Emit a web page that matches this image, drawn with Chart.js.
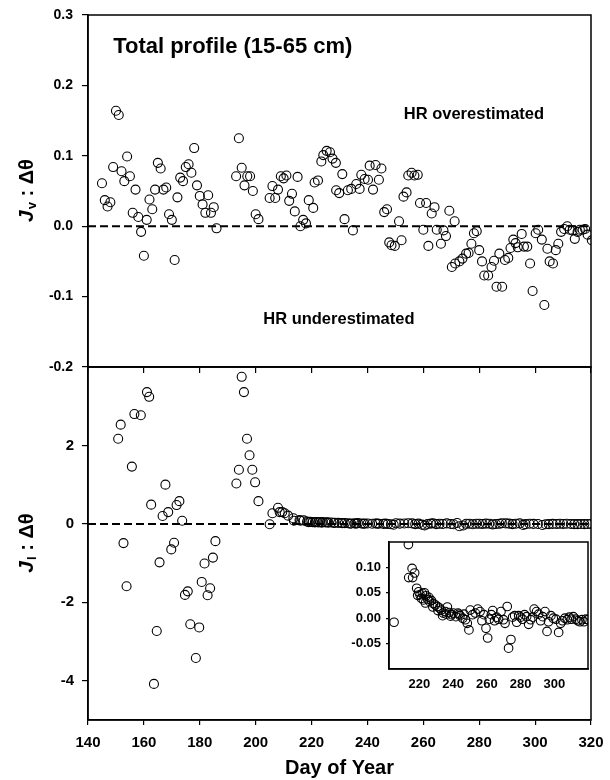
<!DOCTYPE html>
<html>
<head>
<meta charset="utf-8">
<script src="https://cdn.jsdelivr.net/npm/chart.js@4.4.0/dist/chart.umd.min.js"></script>
<style>
  html, body { margin: 0; padding: 0; background: #fff; }
  #wrap { position: relative; width: 610px; height: 780px; }
  canvas { position: absolute; }
  #bottomChart { left: 0; top: 360px; }
  #topChart { left: 0; top: 0; }
  #insetChart { left: 340px; top: 530px; }
</style>
</head>
<body>
<div id="wrap">
  <canvas id="bottomChart" width="610" height="420"></canvas>
  <canvas id="topChart" width="610" height="380"></canvas>
  <canvas id="insetChart" width="260" height="180"></canvas>
</div>
<script>
const FONT = "'Liberation Sans', Arial, Helvetica, sans-serif";

// Tick values
const dayTicks = [140, 160, 180, 200, 220, 240, 260, 280, 300, 320];
const insetDayTicks = [220, 240, 260, 280, 300];
const topYTicks = [-0.2, -0.1, 0, 0.1, 0.2, 0.3];
const bottomYTicks = [-4, -2, 0, 2];
const insetYTicks = [-0.05, 0, 0.05, 0.10];

// Top panel: Jv : dtheta
const topDays = [
  145, 146, 147, 148, 149, 150, 151, 152, 153, 154,
  155, 156, 157, 158, 159, 160, 161, 162, 163, 164,
  165, 166, 167, 168, 169, 170, 171, 172, 173, 174,
  175, 176, 177, 178, 179, 180, 181, 182, 183, 184,
  185, 186, 193, 194, 195, 196, 197, 198, 199, 200,
  201, 205, 206, 207, 208, 209, 210, 211, 212, 213,
  214, 215, 216, 217, 218, 219, 220.6, 221.1, 222.3, 223.5,
  224.2, 225.4, 226.6, 227.5, 228.7, 228.8, 229.9, 231, 231.8, 233,
  234.2, 234.8, 236, 237.2, 237.8, 239, 240.2, 240.8, 242, 242.9,
  244.1, 245, 246, 247, 247.8, 248.6, 249.8, 251.3, 252.2, 252.9,
  254, 254.6, 255.8, 256.8, 258, 258.8, 260, 261, 261.8, 263,
  264, 264.8, 266.3, 267.2, 268.1, 269.3, 270.2, 271.2, 271.4, 272.9,
  274, 275.3, 276.2, 277.2, 278.1, 279.1, 280, 281, 281.8, 283.2,
  284.4, 285.3, 286.2, 287.2, 288.2, 289.2, 290.4, 291.2, 292.2, 293,
  293.8, 295.2, 296, 297.2, 298.2, 299.1, 300.2, 301.1, 302.4, 303.3,
  304.4, 305.2, 306.4, 307.4, 308.3, 309.3, 310.4, 311.5, 312.4, 313.4,
  314.2, 315.2, 316, 317, 317.9, 318.8, 320.3
];
const topVals = [
  0.061, 0.037, 0.028, 0.034, 0.084, 0.164, 0.158, 0.078, 0.064, 0.099,
  0.071, 0.019, 0.052, 0.013, -0.008, -0.042, 0.009, 0.038, 0.024, 0.052,
  0.090, 0.082, 0.052, 0.055, 0.017, 0.009, -0.048, 0.041, 0.069, 0.064,
  0.084, 0.088, 0.076, 0.111, 0.058, 0.043, 0.031, 0.019, 0.044, 0.019,
  0.027, -0.003, 0.071, 0.125, 0.083, 0.058, 0.071, 0.071, 0.050, 0.017,
  0.010, 0.040, 0.057, 0.040, 0.052, 0.071, 0.068, 0.072, 0.036, 0.046,
  0.021, 0.070, 0.000, 0.009, 0.004, 0.037, 0.026, 0.062, 0.065, 0.092,
  0.101, 0.107, 0.105, 0.096, 0.090, 0.051, 0.047, 0.074, 0.010, 0.051,
  0.053, -0.006, 0.060, 0.053, 0.073, 0.067, 0.066, 0.086, 0.052, 0.087,
  0.066, 0.082, 0.020, 0.024, -0.023, -0.027, -0.028, 0.007, -0.020, 0.042,
  0.048, 0.072, 0.076, 0.072, 0.073, 0.033, -0.005, 0.033, -0.028, 0.018,
  0.027, -0.005, -0.025, -0.006, -0.014, 0.022, -0.058, 0.007, -0.053, -0.050,
  -0.046, -0.039, -0.038, -0.025, -0.010, -0.007, -0.034, -0.050, -0.070, -0.070,
  -0.058, -0.049, -0.086, -0.039, -0.086, -0.048, -0.045, -0.031, -0.019, -0.024,
  -0.030, -0.011, -0.029, -0.029, -0.053, -0.092, -0.010, -0.005, -0.019, -0.112,
  -0.032, -0.050, -0.053, -0.034, -0.025, -0.008, -0.004, 0.000, -0.005, -0.006,
  -0.018, -0.008, -0.005, -0.005, -0.004, -0.012, -0.020
];

// Bottom panel: Jl : dtheta (the inset zooms into the same series)
const bottomDays = [
  150.8, 151.7, 152.7, 153.8, 155.7, 156.6, 158.9, 161.1, 161.9, 162.6,
  163.6, 164.6, 165.6, 166.7, 167.7, 168.7, 169.8, 170.8, 171.7, 172.7,
  173.7, 174.7, 175.7, 176.6, 178.6, 179.8, 180.7, 181.7, 182.8, 183.7,
  184.7, 185.6, 193.1, 194, 195, 195.8, 196.9, 197.8, 198.8, 199.8,
  201, 205, 206, 208, 208.6, 209.5, 210.4, 211.6, 213.5, 213.7,
  215.7, 216, 217.2, 218.4, 219, 219.6, 220.4, 221.2, 221.8, 222.4,
  223, 223.6, 224, 225, 225.6, 226, 227.1, 228, 228.3, 229.5,
  230.7, 231, 231.9, 233, 233.8, 234.2, 235.4, 236, 236.6, 237.8,
  238.5, 239, 240.1, 241.7, 242.9, 243.5, 244.1, 245.7, 246.5, 247.3,
  248.4, 249.4, 250.2, 251.6, 253.2, 254.6, 256, 257.1, 258.3, 259.5,
  260.5, 261.5, 262.7, 263.5, 264.6, 265.8, 267, 268.4, 269.8, 270.8,
  272.1, 272.9, 274.3, 275.3, 276.5, 277.7, 278.9, 280, 281.2, 282.4,
  283.6, 284.8, 286, 287.2, 288.1, 289.5, 290.7, 291.9, 293.1, 294.5,
  295.7, 296.6, 298, 299.4, 301, 302.6, 303.8, 304.9, 306.3, 307.7,
  308.9, 310.1, 311.3, 312.8, 314, 315.2, 316.4, 317.6, 318.8, 320
];
const bottomVals = [
  2.17, 2.53, -0.49, -1.59, 1.46, 2.80, 2.77, 3.36, 3.24, 0.49,
  -4.08, -2.73, -0.98, 0.20, 1.00, 0.30, -0.65, -0.48, 0.48, 0.58,
  0.08, -1.81, -1.72, -2.56, -3.42, -2.64, -1.48, -1.01, -1.82, -1.64,
  -0.86, -0.44, 1.03, 1.38, 3.75, 3.36, 2.17, 1.75, 1.38, 1.06,
  0.58, -0.008, 0.27, 0.41, 0.30, 0.30, 0.27, 0.21, 0.145, 0.080,
  0.098, 0.080, 0.089, 0.059, 0.045, 0.052, 0.046, 0.039, 0.049, 0.036,
  0.050, 0.030, 0.044, 0.037, 0.041, 0.033, 0.035, 0.022, 0.029, 0.026,
  0.023, 0.015, 0.020, 0.016, 0.005, 0.010, 0.013, 0.008, 0.022, 0.011,
  0.004, 0.007, 0.010, 0.003, 0.010, 0.008, 0.005, 0.000, 0.008, -0.003,
  -0.010, -0.023, 0.016, 0.007, 0.010, 0.018, 0.013, -0.005, 0.007, -0.020,
  -0.039, -0.002, 0.007, 0.015, -0.005, 0.002, -0.002, 0.013, -0.003, -0.010,
  0.023, -0.059, -0.042, 0.002, 0.005, -0.008, 0.005, 0.002, -0.002, 0.007,
  0.003, -0.012, -0.003, 0.002, 0.018, 0.013, 0.008, -0.005, 0.003, 0.013,
  -0.026, -0.007, 0.005, 0.000, -0.002, -0.028, -0.010, -0.005, 0.000, -0.003,
  0.002, -0.002, 0.003, -0.002, -0.005, -0.007, -0.003, -0.007, -0.002, -0.003
];

// Text notes in the top panel, placed in data units
const topNotes = [
  { text: 'Total profile (15-65 cm)', day: 149, val: 0.255, size: 22 },
  { text: 'HR overestimated', day: 253, val: 0.159, size: 16.5 },
  { text: 'HR underestimated', day: 202.7, val: -0.133, size: 16.5 }
];

const toPoints = (xs, ys) => xs.map((x, i) => ({ x: x, y: ys[i] }));

function circles(data, r) {
  return {
    data: data,
    pointStyle: 'circle',
    pointRadius: r,
    pointBorderWidth: 1.1,
    pointBorderColor: '#000',
    pointBackgroundColor: 'rgba(0,0,0,0)',
    showLine: false
  };
}

function zeroLine(x0, x1) {
  return {
    data: [{ x: x0, y: 0 }, { x: x1, y: 0 }],
    showLine: true,
    borderColor: '#000',
    borderWidth: 2,
    borderDash: [8, 4],
    pointRadius: 0
  };
}

function tickFont(size) {
  return { family: FONT, size: size, weight: 'bold' };
}

function fixedTicks(values) {
  return scale => { scale.ticks = values.map(v => ({ value: v })); };
}

// fixed axis size, no extra label padding pushed into the layout
function fixWidth(w) {
  return s => { s.width = w; s.paddingTop = 0; s.paddingBottom = 0; };
}
function fixHeight(h) {
  return s => { s.height = h; s.paddingLeft = 0; s.paddingRight = 0; };
}

// Box around the plot area
const framePlugin = {
  id: 'frame',
  beforeDraw(chart, args, opts) {
    if (opts.fill) {
      const a = chart.chartArea;
      chart.ctx.save();
      chart.ctx.fillStyle = '#fff';
      chart.ctx.fillRect(a.left, a.top, a.right - a.left, a.bottom - a.top);
      chart.ctx.restore();
    }
  },
  afterDraw(chart) {
    const a = chart.chartArea;
    const ctx = chart.ctx;
    ctx.save();
    ctx.strokeStyle = '#000';
    ctx.lineWidth = 1.5;
    ctx.strokeRect(a.left, a.top, a.right - a.left, a.bottom - a.top);
    ctx.restore();
  }
};

// Rotated y title "J_sub : Δθ"
function yTitle(sub) {
  return {
    id: 'yTitle',
    afterDraw(chart) {
      const { ctx, chartArea } = chart;
      const cy = (chartArea.top + chartArea.bottom) / 2;
      const fJ = `italic bold 21px ${FONT}`;
      const fSub = `bold 13px ${FONT}`;
      const fRest = `bold 20px ${FONT}`;
      const rest = ' : \u0394\u03b8';
      ctx.save();
      ctx.translate(27, cy);
      ctx.rotate(-Math.PI / 2);
      ctx.fillStyle = '#000';
      ctx.textBaseline = 'middle';
      ctx.textAlign = 'left';
      ctx.font = fJ; const wJ = ctx.measureText('J').width;
      ctx.font = fSub; const wS = ctx.measureText(sub).width;
      ctx.font = fRest; const wR = ctx.measureText(rest).width;
      let x = -(wJ + wS + wR) / 2;
      ctx.font = fJ; ctx.fillText('J', x, 0); x += wJ + 1;
      ctx.font = fSub; ctx.fillText(sub, x, 5); x += wS;
      ctx.font = fRest; ctx.fillText(rest, x, 0);
      ctx.restore();
    }
  };
}

const notesPlugin = {
  id: 'notes',
  afterDatasetsDraw(chart) {
    const { ctx, scales } = chart;
    ctx.save();
    ctx.fillStyle = '#000';
    ctx.textAlign = 'left';
    ctx.textBaseline = 'middle';
    topNotes.forEach(n => {
      ctx.font = `bold ${n.size}px ${FONT}`;
      ctx.fillText(n.text, scales.x.getPixelForValue(n.day), scales.y.getPixelForValue(n.val));
    });
    ctx.restore();
  }
};

const baseOptions = {
  responsive: false,
  animation: false,
  devicePixelRatio: 1,
  plugins: { legend: { display: false }, tooltip: { enabled: false } }
};

// Top chart
new Chart(document.getElementById('topChart'), {
  type: 'scatter',
  data: { datasets: [zeroLine(140, 320), circles(toPoints(topDays, topVals), 4.5)] },
  options: {
    ...baseOptions,
    layout: { autoPadding: false, padding: { left: 0, right: 19, top: 15, bottom: 0 } },
    scales: {
      x: {
        type: 'linear', min: 140, max: 320,
        afterBuildTicks: fixedTicks(dayTicks),
        afterFit: fixHeight(13),
        ticks: { display: false },
        grid: { drawOnChartArea: false, drawTicks: true, tickLength: 6, color: '#000', lineWidth: 1.2 },
        border: { color: '#000', width: 1.5 }
      },
      y: {
        min: -0.2, max: 0.3,
        afterBuildTicks: fixedTicks(topYTicks),
        afterFit: fixWidth(88),
        ticks: {
          color: '#000', font: tickFont(14), padding: 9,
          callback: v => (Math.abs(v) < 1e-9 ? 0 : v).toFixed(1)
        },
        grid: { drawOnChartArea: false, drawTicks: true, tickLength: 6, color: '#000', lineWidth: 1.2 },
        border: { color: '#000', width: 1.5 }
      }
    }
  },
  plugins: [framePlugin, yTitle('v'), notesPlugin]
});

// Bottom chart
new Chart(document.getElementById('bottomChart'), {
  type: 'scatter',
  data: { datasets: [zeroLine(140, 320), circles(toPoints(bottomDays, bottomVals), 4.5)] },
  options: {
    ...baseOptions,
    layout: { autoPadding: false, padding: { left: 0, right: 19, top: 7, bottom: 0 } },
    scales: {
      x: {
        type: 'linear', min: 140, max: 320,
        afterBuildTicks: fixedTicks(dayTicks),
        afterFit: fixHeight(60),
        ticks: { color: '#000', font: tickFont(15), padding: 9, maxRotation: 0, autoSkip: false },
        grid: { drawOnChartArea: false, drawTicks: true, tickLength: 5, color: '#000', lineWidth: 1.2 },
        border: { color: '#000', width: 1.5 },
        title: {
          display: true, text: 'Day of Year', color: '#000',
          font: { family: FONT, size: 20, weight: 'bold' },
          padding: { top: 0, bottom: 0 }
        }
      },
      y: {
        min: -5, max: 4,
        afterBuildTicks: fixedTicks(bottomYTicks),
        afterFit: fixWidth(88),
        ticks: { color: '#000', font: tickFont(15), padding: 8 },
        grid: { drawOnChartArea: false, drawTicks: true, tickLength: 6, color: '#000', lineWidth: 1.2 },
        border: { color: '#000', width: 1.5 }
      }
    }
  },
  plugins: [framePlugin, yTitle('l')]
});

// Inset
new Chart(document.getElementById('insetChart'), {
  type: 'scatter',
  data: { datasets: [circles(toPoints(bottomDays, bottomVals).filter(p => p.x >= 202), 4.3)] },
  options: {
    ...baseOptions,
    plugins: { ...baseOptions.plugins, frame: { fill: true } },
    layout: { autoPadding: false, padding: { left: 0, right: 12, top: 12, bottom: 0 } },
    scales: {
      x: {
        type: 'linear', min: 202, max: 320,
        afterBuildTicks: fixedTicks(insetDayTicks),
        afterFit: fixHeight(41),
        ticks: { color: '#000', font: tickFont(13), padding: 8, maxRotation: 0, autoSkip: false },
        grid: { display: false, drawTicks: false },
        border: { color: '#000', width: 1.5 }
      },
      y: {
        min: -0.1, max: 0.15,
        afterBuildTicks: fixedTicks(insetYTicks),
        afterFit: fixWidth(49),
        ticks: {
          color: '#000', font: tickFont(13), padding: 5,
          callback: v => (Math.abs(v) < 1e-9 ? 0 : v).toFixed(2)
        },
        grid: { drawOnChartArea: false, drawTicks: true, tickLength: 3, color: '#000', lineWidth: 1.2 },
        border: { color: '#000', width: 1.5 }
      }
    }
  },
  plugins: [framePlugin]
});
</script>
</body>
</html>
